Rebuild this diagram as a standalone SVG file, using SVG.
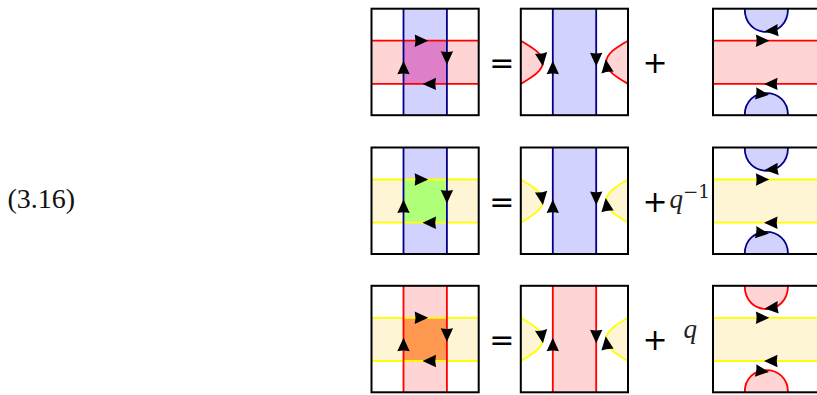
<svg xmlns="http://www.w3.org/2000/svg" width="817" height="395" viewBox="0 0 817 395">
<style>
.box{fill:none;stroke:#000;stroke-width:2}
.ln{fill:none;stroke-width:1.8}
.fl{stroke:none}
.blue{stroke:#000088}.red{stroke:#ff0000}.yel{stroke:#ffff00}
.fblue{fill:#d2d2ff}.fred{fill:#ffd4d4}.fyel{fill:#fef5d4}
.sym{font-family:"DejaVu Sans",sans-serif;font-size:30px;fill:#000;text-anchor:middle}
.q{font-family:"Liberation Serif",serif;font-style:italic;font-size:27px;fill:#222}
.sup{font-family:"DejaVu Serif","Liberation Serif",serif;font-size:18px;fill:#222}
.eq{font-family:"Liberation Serif",serif;font-size:28px;fill:#111}
</style>
<defs>
<path id="ah" d="M1 0 L-12.5 -6.2 Q-11 0 -12.5 6.2 Z" fill="#000"/>
<g id="arrowsA">
<use href="#ah" transform="translate(55.7 32)"/>
<use href="#ah" transform="translate(75.4 55) rotate(90)"/>
<use href="#ah" transform="translate(32 53) rotate(-90)"/>
<use href="#ah" transform="translate(52 75.2) rotate(180)"/>
</g>
<g id="arrowsB">
<use href="#ah" transform="translate(32 53) rotate(-90)"/>
<use href="#ah" transform="translate(75.4 56.5) rotate(90)"/>
<use href="#ah" transform="translate(22 56.5) rotate(82)"/>
<use href="#ah" transform="translate(85 51.5) rotate(-98)"/>
</g>
<g id="arrowsC">
<use href="#ah" transform="translate(52.7 22.5) rotate(175)"/>
<use href="#ah" transform="translate(55.3 32)"/>
<use href="#ah" transform="translate(52 75.2) rotate(180)"/>
<use href="#ah" transform="translate(55 86) rotate(6)"/>
</g>
<path id="bulgeL" d="M0 32 C12 39 22 45 22 53.6 S12 68 0 75.2"/>
<path id="bulgeR" d="M107.2 32 C95 39 85.4 45 85.4 53.6 S95 68 107.2 75.2"/>
<path id="arcT" d="M31.7 0 C31.7 31 75 31 75 0"/>
<path id="arcB" d="M31.7 106.5 C31.7 77 75 77 75 106.5"/>
</defs>
<rect width="817" height="395" fill="#fff"/>

<g id="eq-number"><text class="eq" x="7.5" y="208">(3.16)</text></g>

<g id="r1a" transform="translate(371.5 8.7)">
<rect class="fl fred" y="32" width="107.2" height="43.2"/>
<rect class="fl fblue" x="32" width="43.4" height="106.5"/>
<rect class="fl" x="32" y="32" width="43.4" height="43.2" fill="#dd80c8"/>
<path class="ln red" d="M0 32H107.2M0 75.2H107.2"/>
<path class="ln blue" d="M32 0V106.5M75.4 0V106.5"/>
<rect class="box" width="107.2" height="106.5"/>
<use href="#arrowsA"/>
</g>
<g id="r1b" transform="translate(520.8 8.7)">
<rect class="fl fblue" x="32" width="43.4" height="106.5"/>
<use href="#bulgeL" class="ln red fred"/><use href="#bulgeR" class="ln red fred"/>
<path class="ln blue" d="M32 0V106.5M75.4 0V106.5"/>
<rect class="box" width="107.2" height="106.5"/>
<use href="#arrowsB"/>
</g>
<g id="r1c" transform="translate(713 8.7)">
<rect class="fl fred" y="32" width="107.2" height="43.2"/>
<path class="ln red" d="M0 32H107.2M0 75.2H107.2"/>
<use href="#arcT" class="ln blue fblue"/><use href="#arcB" class="ln blue fblue"/>
<rect class="box" width="107.2" height="106.5"/>
<use href="#arrowsC"/>
</g>

<g id="r2a" transform="translate(371.5 147.5)">
<rect class="fl fyel" y="32" width="107.2" height="43.2"/>
<rect class="fl fblue" x="32" width="43.4" height="106.5"/>
<rect class="fl" x="32" y="32" width="43.4" height="43.2" fill="#b0ff78"/>
<path class="ln yel" d="M0 32H107.2M0 75.2H107.2"/>
<path class="ln blue" d="M32 0V106.5M75.4 0V106.5"/>
<rect class="box" width="107.2" height="106.5"/>
<use href="#arrowsA"/>
</g>
<g id="r2b" transform="translate(520.8 147.5)">
<rect class="fl fblue" x="32" width="43.4" height="106.5"/>
<use href="#bulgeL" class="ln yel fyel"/><use href="#bulgeR" class="ln yel fyel"/>
<path class="ln blue" d="M32 0V106.5M75.4 0V106.5"/>
<rect class="box" width="107.2" height="106.5"/>
<use href="#arrowsB"/>
</g>
<g id="r2c" transform="translate(713 147.5)">
<rect class="fl fyel" y="32" width="107.2" height="43.2"/>
<path class="ln yel" d="M0 32H107.2M0 75.2H107.2"/>
<use href="#arcT" class="ln blue fblue"/><use href="#arcB" class="ln blue fblue"/>
<rect class="box" width="107.2" height="106.5"/>
<use href="#arrowsC"/>
</g>

<g id="r3a" transform="translate(371.5 285.8)">
<rect class="fl fyel" y="32" width="107.2" height="43.2"/>
<rect class="fl fred" x="32" width="43.4" height="106.5"/>
<rect class="fl" x="32" y="32" width="43.4" height="43.2" fill="#ff9850"/>
<path class="ln yel" d="M0 32H107.2M0 75.2H107.2"/>
<path class="ln red" d="M32 0V106.5M75.4 0V106.5"/>
<rect class="box" width="107.2" height="106.5"/>
<use href="#arrowsA"/>
</g>
<g id="r3b" transform="translate(520.8 285.8)">
<rect class="fl fred" x="32" width="43.4" height="106.5"/>
<use href="#bulgeL" class="ln yel fyel"/><use href="#bulgeR" class="ln yel fyel"/>
<path class="ln red" d="M32 0V106.5M75.4 0V106.5"/>
<rect class="box" width="107.2" height="106.5"/>
<use href="#arrowsB"/>
</g>
<g id="r3c" transform="translate(713 285.8)">
<rect class="fl fyel" y="32" width="107.2" height="43.2"/>
<path class="ln yel" d="M0 32H107.2M0 75.2H107.2"/>
<use href="#arcT" class="ln red fred"/><use href="#arcB" class="ln red fred"/>
<rect class="box" width="107.2" height="106.5"/>
<use href="#arrowsC"/>
</g>

<g id="labels">
<text class="sym" x="501.7" y="73">=</text>
<text class="sym" x="655" y="73">+</text>
<text class="sym" x="501.7" y="212">=</text>
<text class="sym" x="655" y="212">+</text>
<text class="q" x="669.5" y="208">q</text>
<text class="sup" x="683" y="198" textLength="27" lengthAdjust="spacingAndGlyphs">−1</text>
<text class="sym" x="501.7" y="350">=</text>
<text class="sym" x="655" y="350">+</text>
<text class="q" x="683.5" y="338">q</text>
</g>
</svg>
